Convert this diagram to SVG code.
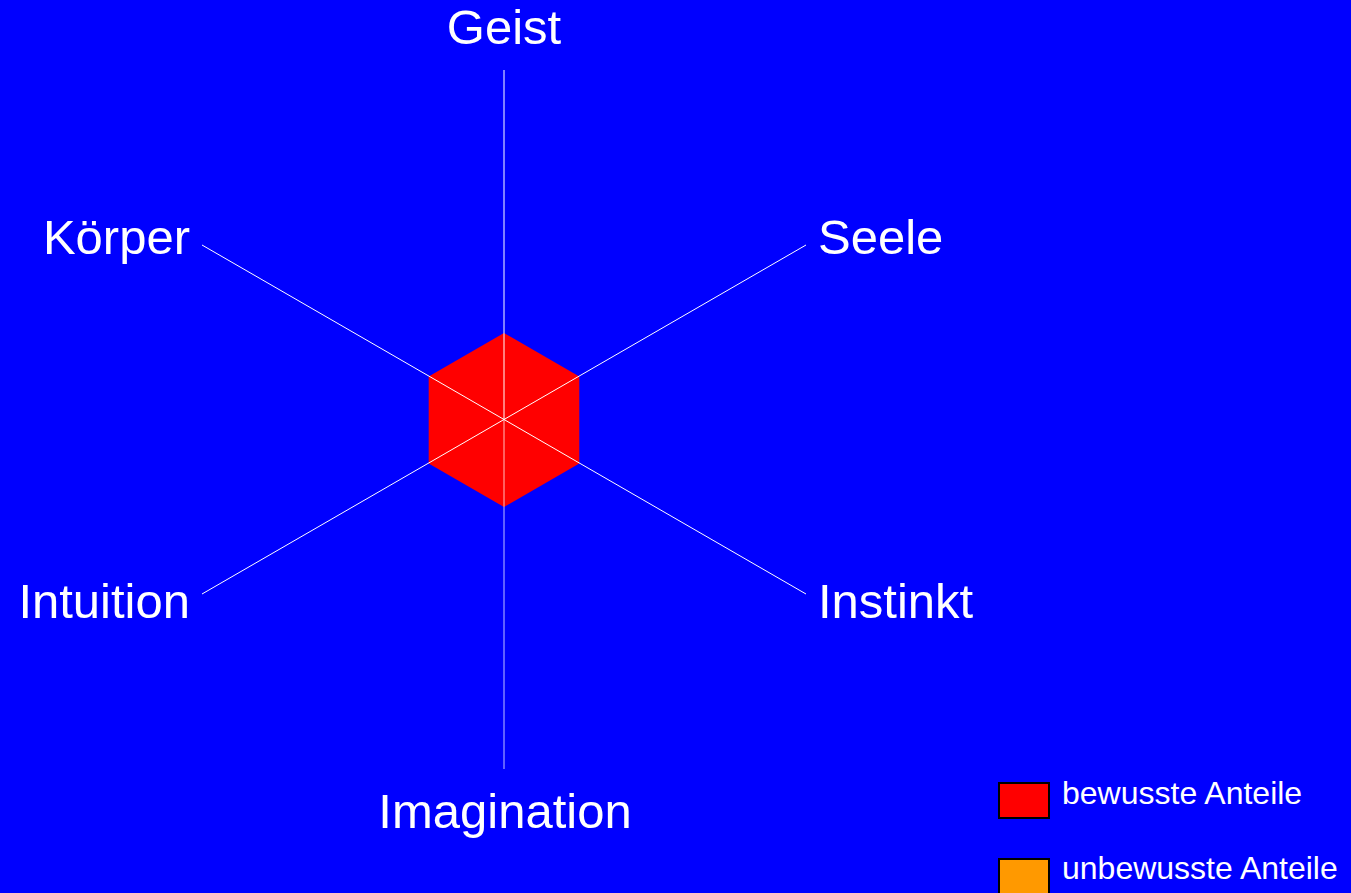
<svg xmlns="http://www.w3.org/2000/svg" width="1351" height="893" viewBox="0 0 1351 893">
<style>
.lbl{font-family:"Liberation Sans",Arial,sans-serif;font-size:49px;fill:#ffffff}
.leg{font-family:"Liberation Sans",Arial,sans-serif;font-size:32px;fill:#ffffff}
.ax{stroke:#ffffff;stroke-width:1;fill:none}
.sw{stroke:#000000;stroke-width:2}
</style>
<rect x="0" y="0" width="1351" height="893" fill="#0000ff"/>
<g id="hexagon">
<polygon points="504,333 579.3,376.5 579.3,463.5 504,507 428.7,463.5 428.7,376.5" fill="#ff0000"/>
</g>
<g id="connectors">
<line class="ax" x1="504" y1="70" x2="504" y2="420" stroke-width="1.5"/>
<line class="ax" x1="504" y1="420" x2="504" y2="769" stroke-width="1.5" stroke-opacity="0.75"/>
<line class="ax" x1="202" y1="245" x2="806" y2="594"/>
<line class="ax" x1="806" y1="245" x2="202" y2="594"/>
</g>
<g id="geist"><text class="lbl" x="504" y="44" text-anchor="middle">Geist</text></g>
<g id="koerper"><text class="lbl" x="190" y="254" text-anchor="end">Körper</text></g>
<g id="seele"><text class="lbl" x="818" y="254">Seele</text></g>
<g id="intuition"><text class="lbl" x="190" y="618" text-anchor="end">Intuition</text></g>
<g id="instinkt"><text class="lbl" x="818" y="618">Instinkt</text></g>
<g id="imagination"><text class="lbl" x="505" y="828" text-anchor="middle">Imagination</text></g>
<g id="legend">
<rect class="sw" x="999" y="783" width="50" height="35" fill="#ff0000"/>
<text class="leg" x="1062" y="804">bewusste Anteile</text>
<rect class="sw" x="999" y="859" width="50" height="36" fill="#ff9900"/>
<text class="leg" x="1062" y="879">unbewusste Anteile</text>
</g>
</svg>
